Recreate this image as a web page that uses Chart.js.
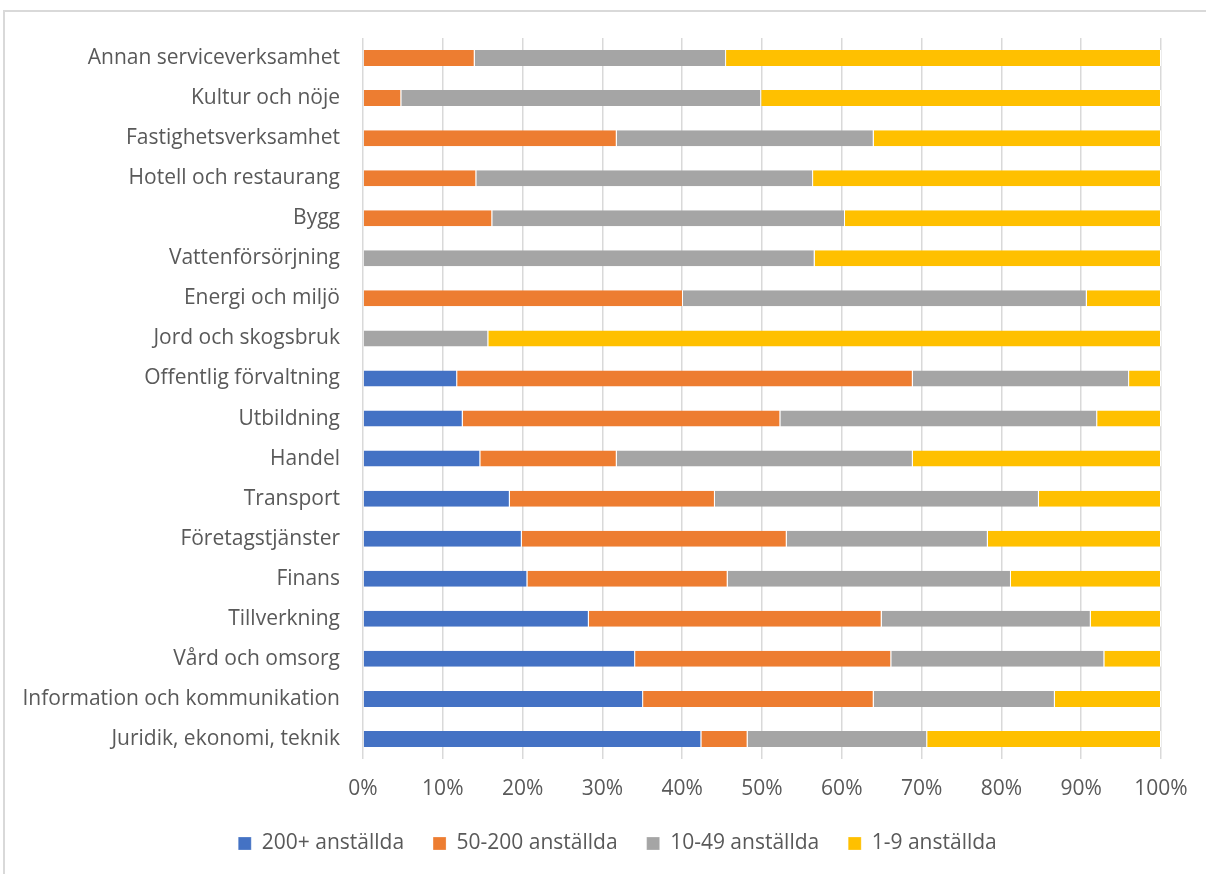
<!DOCTYPE html>
<html>
<head>
<meta charset="utf-8">
<script src="https://cdn.jsdelivr.net/npm/chart.js"></script>
<style>
  html, body { margin: 0; padding: 0; background: #fff; }
  #frame { position: absolute; left: 3px; top: 10px; width: 1230px; height: 900px; border: 2px solid #d9d9d9; box-sizing: border-box; }
  #wrap { position: absolute; left: 0; top: 0; width: 1206px; height: 874px; }
</style>
</head>
<body>
<div id="frame"></div>
<div id="wrap"><canvas id="storlekChart" width="1206" height="874"></canvas></div>
<script>
// branscher, uppifrån och ned
var branscher = [
  "Annan serviceverksamhet", "Kultur och nöje", "Fastighetsverksamhet",
  "Hotell och restaurang", "Bygg", "Vattenförsörjning", "Energi och miljö",
  "Jord och skogsbruk", "Offentlig förvaltning", "Utbildning", "Handel",
  "Transport", "Företagstjänster", "Finans", "Tillverkning",
  "Vård och omsorg", "Information och kommunikation", "Juridik, ekonomi, teknik"
];

// andel (%) per storleksklass
var stora   = [0, 0, 0, 0, 0, 0, 0, 0, 11.8, 12.5, 14.7, 18.4, 19.9, 20.6, 28.3, 34.1, 35.1, 42.4];
var medel   = [14.0, 4.8, 31.8, 14.2, 16.2, 0, 40.1, 0, 57.1, 39.8, 17.1, 25.7, 33.2, 25.1, 36.7, 32.1, 28.9, 5.8];
var sma     = [31.5, 45.1, 32.2, 42.2, 44.2, 56.6, 50.6, 15.7, 27.1, 39.7, 37.1, 40.6, 25.2, 35.5, 26.2, 26.7, 22.7, 22.5];
var mikro   = [54.5, 50.1, 36.0, 43.6, 39.6, 43.4, 9.3, 84.3, 4.0, 8.0, 31.1, 15.3, 21.7, 18.8, 8.8, 7.1, 13.3, 29.3];

var serier = ["200+ anställda", "50-200 anställda", "10-49 anställda", "1-9 anställda"];
var farger = ["#4472C4", "#ED7D31", "#A5A5A5", "#FFC000"];

Chart.defaults.font.family = "'Open Sans', sans-serif";
Chart.defaults.font.size = 21;
Chart.defaults.color = "#595959";

function serie(i, data) {
  return {
    label: serier[i],
    data: data,
    backgroundColor: farger[i],
    borderColor: "#ffffff",
    borderWidth: { right: 1 },
    borderSkipped: false,
    categoryPercentage: 0.8,
    barPercentage: 0.5
  };
}

// flytta förklaringen lite åt höger
var legendShift = {
  id: "legendShift",
  afterLayout: function (chart) {
    chart.legend.left += 37;
    chart.legend.right += 37;
  }
};

new Chart("storlekChart", {
  type: "bar",
  data: {
    labels: branscher,
    datasets: [serie(0, stora), serie(1, medel), serie(2, sma), serie(3, mikro)]
  },
  options: {
    indexAxis: "y",
    responsive: false,
    animation: false,
    layout: { padding: { top: 38, right: 45, bottom: 10, left: 0 } },
    scales: {
      x: {
        stacked: true,
        min: 0,
        max: 100,
        ticks: { stepSize: 10, padding: 17, callback: function (v) { return v + "%"; } },
        grid: { color: "#d9d9d9", lineWidth: 1.5, drawTicks: false },
        border: { display: false },
        afterFit: function (s) { s.height = 45; }
      },
      y: {
        stacked: true,
        grid: { display: false },
        border: { display: false },
        ticks: { padding: 15 },
        afterFit: function (s) { s.width = 363; }
      }
    },
    plugins: {
      legend: {
        position: "bottom",
        labels: { boxWidth: 13, boxHeight: 13, padding: 29 }
      },
      tooltip: { enabled: false }
    }
  },
  plugins: [legendShift]
});
</script>
</body>
</html>
